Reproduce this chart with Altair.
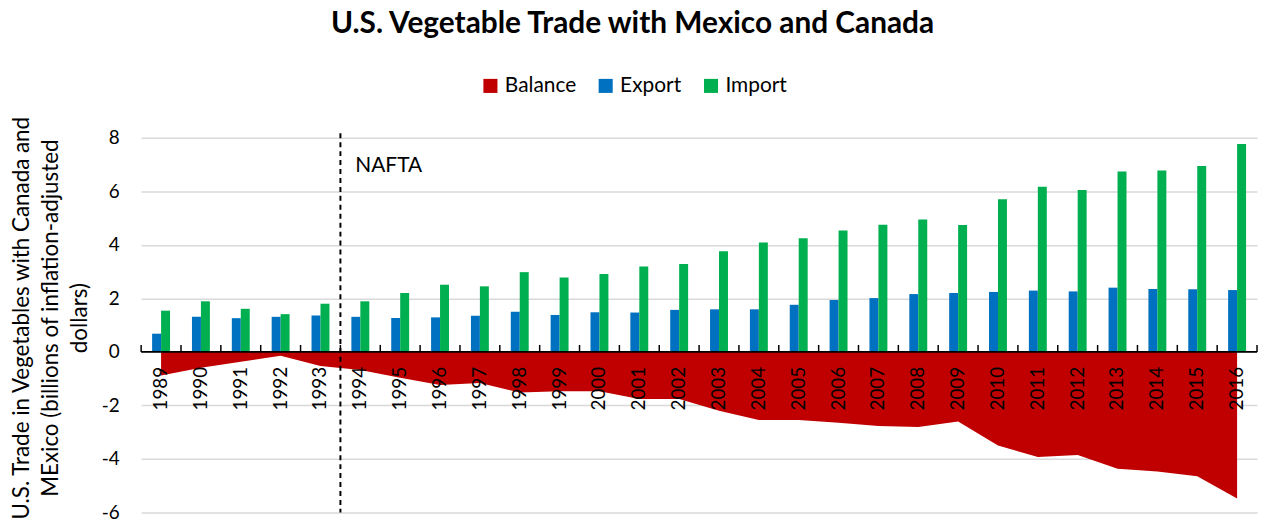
import altair as alt
import pandas as pd

years = list(range(1989, 2017))
exports = [0.68, 1.31, 1.26, 1.31, 1.36, 1.31, 1.27, 1.29, 1.35, 1.50, 1.38, 1.48, 1.47, 1.57,
           1.59, 1.59, 1.76, 1.94, 2.01, 2.16, 2.20, 2.24, 2.29, 2.26, 2.40, 2.35, 2.34, 2.31]
imports = [1.54, 1.89, 1.61, 1.41, 1.80, 1.89, 2.20, 2.51, 2.45, 2.98, 2.78, 2.91, 3.19, 3.28,
           3.76, 4.09, 4.25, 4.54, 4.75, 4.95, 4.74, 5.70, 6.17, 6.05, 6.74, 6.78, 6.95, 7.77]
balance = [-0.88, -0.59, -0.37, -0.14, -0.53, -0.68, -0.97, -1.24, -1.16, -1.52, -1.47, -1.47,
           -1.76, -1.76, -2.20, -2.55, -2.55, -2.65, -2.77, -2.81, -2.60, -3.50, -3.93, -3.85,
           -4.37, -4.47, -4.65, -5.48]
series_names = ["Balance", "Export", "Import"]
series_colors = ["#C00000", "#0070C0", "#00B050"]
y_ticks = [-6, -4, -2, 0, 2, 4, 6, 8]
nafta_boundary = 1993.5
nafta_label = "NAFTA"
nafta_top = 8.17
nafta_bottom = -6
nafta_label_y = 6.95
tick_len = 0.26
bar_frac = 0.225
title_text = "U.S. Vegetable Trade with Mexico and Canada"
y_title = ["U.S. Trade in Vegetables with Canada and",
           "MExico (billions of inflation-adjusted",
           "dollars)"]

exp_df = pd.DataFrame({"year": years, "series": "Export", "value": exports, "zero": 0.0,
                       "x0": [y - bar_frac for y in years], "x1": years})
imp_df = pd.DataFrame({"year": years, "series": "Import", "value": imports, "zero": 0.0,
                       "x0": years, "x1": [y + bar_frac for y in years]})
bal_df = pd.DataFrame({"year": years, "series": "Balance", "value": balance, "zero": 0.0})
labels_df = pd.DataFrame({"year": years, "label": [str(y) for y in years], "zero": 0.0})
bounds = [y - 0.5 for y in years] + [years[-1] + 0.5]
ticks_df = pd.DataFrame({"pos": bounds, "zero": 0.0, "tick_top": tick_len})
zero_df = pd.DataFrame({"zero": [0.0]})
nafta_df = pd.DataFrame({"pos": [nafta_boundary], "top": [nafta_top], "bottom": [nafta_bottom],
                         "label_y": [nafta_label_y], "label": [nafta_label]})

x_scale = alt.Scale(domain=[years[0] - 0.5, years[-1] + 0.5], nice=False, zero=False)
y_scale = alt.Scale(domain=[-6, 8], nice=False, zero=False)
color_scale = alt.Scale(domain=series_names, range=series_colors)

area = alt.Chart(bal_df).mark_area(opacity=1, interpolate="linear").encode(
    x=alt.X("year:Q", scale=x_scale, axis=None),
    y=alt.Y("value:Q", scale=y_scale,
            axis=alt.Axis(values=y_ticks, title=y_title, titleFontSize=22.5, titleFontWeight="normal",
                          titleLineHeight=29, titlePadding=10, titleColor="#000000", titleY=181,
                          labelFontSize=19, labelColor="#000000", labelPadding=22,
                          labelExpr="'' + datum.value",
                          ticks=False, domain=False,
                          gridColor="#D9D9D9", gridWidth=1.5)),
    y2="zero:Q",
    color=alt.Color("series:N", scale=color_scale,
                    legend=alt.Legend(orient="none", legendX=341, legendY=-63, direction="horizontal",
                                      title=None, symbolType="square", symbolSize=200,
                                      symbolStrokeWidth=0, labelFontSize=21, labelOffset=4,
                                      columnPadding=19, labelColor="#000000")),
)

bars_exp = alt.Chart(exp_df).mark_bar().encode(
    x=alt.X("x0:Q", scale=x_scale, axis=None),
    x2="x1:Q",
    y=alt.Y("value:Q", scale=y_scale),
    y2="zero:Q",
    color=alt.Color("series:N", scale=color_scale),
)
bars_imp = alt.Chart(imp_df).mark_bar().encode(
    x=alt.X("x0:Q", scale=x_scale, axis=None),
    x2="x1:Q",
    y=alt.Y("value:Q", scale=y_scale),
    y2="zero:Q",
    color=alt.Color("series:N", scale=color_scale),
)

zero_line = alt.Chart(zero_df).mark_rule(color="#000000", strokeWidth=2).encode(
    y=alt.Y("zero:Q", scale=y_scale)
)

ticks = alt.Chart(ticks_df).mark_rule(color="#000000", strokeWidth=1.5).encode(
    x=alt.X("pos:Q", scale=x_scale, axis=None),
    y=alt.Y("zero:Q", scale=y_scale),
    y2="tick_top:Q",
)

labels = alt.Chart(labels_df).mark_text(angle=270, align="right", baseline="middle",
                                        fontSize=19, color="#000000", dx=-15).encode(
    x=alt.X("year:Q", scale=x_scale, axis=None),
    y=alt.Y("zero:Q", scale=y_scale),
    text="label:N",
)

nafta_rule = alt.Chart(nafta_df).mark_rule(color="#000000", strokeWidth=2, strokeDash=[5, 4]).encode(
    x=alt.X("pos:Q", scale=x_scale, axis=None),
    y=alt.Y("top:Q", scale=y_scale),
    y2="bottom:Q",
)
nafta_text = alt.Chart(nafta_df).mark_text(align="left", baseline="middle", fontSize=21,
                                           color="#000000", dx=15).encode(
    x=alt.X("pos:Q", scale=x_scale, axis=None),
    y=alt.Y("label_y:Q", scale=y_scale),
    text="label:N",
)

chart = alt.layer(area, bars_exp, bars_imp, zero_line, ticks, nafta_rule, labels,
                  nafta_text).properties(
    width=1123,
    height=377,
    padding={"left": 134, "top": 129, "right": 3, "bottom": 10},
    autosize=alt.AutoSizeParams(type="none"),
    title=alt.TitleParams(title_text, fontSize=30, fontWeight="bold", anchor="middle",
                          dx=-67, offset=12, baseline="alphabetic", color="#000000"),
).configure(font="Lato").configure_view(stroke=None)

chart.save("out.html", embed_options={"renderer": "svg", "actions": False})
